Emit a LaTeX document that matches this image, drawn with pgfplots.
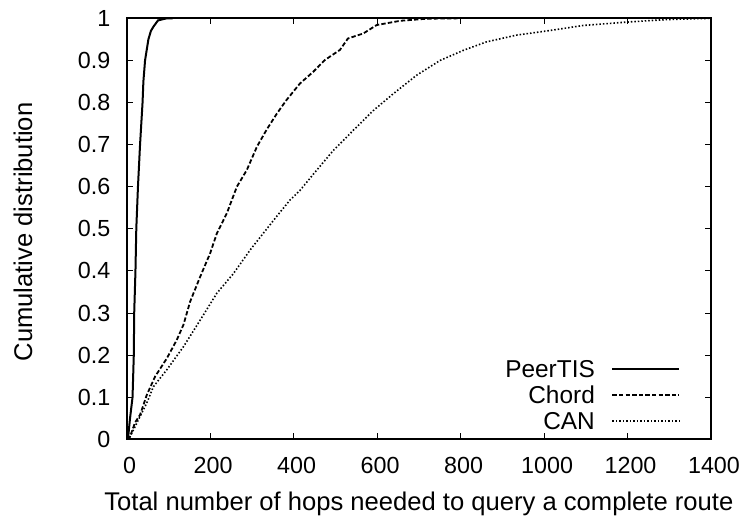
\documentclass[border=0pt]{standalone}
\usepackage{fontspec}
\setmainfont{Liberation Sans}
\usepackage{pgfplots}
\pgfplotsset{compat=1.18}
\begin{document}
\begin{tikzpicture}
\begin{axis}[
  scale only axis,
  width=292.15pt, height=210.5pt,
  xmin=0, xmax=1400, ymin=0, ymax=1,
  xtick={0,200,...,1400},
  ytick={0,0.1,...,1.0},
  yticklabels={0,0.1,0.2,0.3,0.4,0.5,0.6,0.7,0.8,0.9,1},
  /pgf/number format/assume math mode=true,
  /pgf/number format/1000 sep={},
  tick align=inside,
  major tick length=3pt,
  tick style={black, line width=0.5pt},
  axis line style={line width=1pt},
  every tick label/.append style={font=\fontsize{11.65}{14}\selectfont},
  xticklabel style={inner sep=0pt, anchor=north, yshift=-8.7pt, xshift=1.5pt},
  yticklabel style={inner sep=0pt, anchor=east, xshift=-8pt},
  every axis x label/.style={at={(axis description cs:0.5,-0.1703)}, anchor=base, font=\fontsize{12.8}{15}\selectfont},
  every axis y label/.style={at={(axis description cs:-0.162,0.4925)}, rotate=90, anchor=base, font=\fontsize{12.8}{15}\selectfont},
  xlabel={Total number of hops needed to query a complete route},
  ylabel={Cumulative distribution},
  legend cell align=right,
  legend plot pos=right,
  legend style={draw=none, fill=none, font=\fontsize{12.2}{14}\selectfont,
    at={(rel axis cs:0.947,0.0242)}, anchor=south east, inner sep=0pt, outer sep=0pt,
    row sep=4.45pt, column sep=8.3pt,
    nodes={inner sep=0pt, outer sep=0pt, text height=8.4pt, text depth=0pt}},
  legend image code/.code={\draw[#1] (0pt,0pt) -- (33.3pt,0pt);},
]
\coordinate (sw) at (rel axis cs:0,0);
\addplot[black, line width=1pt] coordinates {
(0,0) (3,0.0) (8,0.05) (14,0.1) (17,0.2) (18,0.3) (21,0.4) (23,0.5) (27,0.6) (32,0.7) (38,0.8) (40,0.85) (44,0.9) (52,0.95) (58,0.97) (64,0.98) (75,0.995) (96,1.0) (110,1)
};
\addlegendentry{PeerTIS}
\addplot[black, line width=0.9pt, dash pattern=on 2.2pt off 1.1pt] coordinates {
(0,0) (8,0.006) (20,0.04) (32,0.058) (48,0.105) (68,0.149) (96,0.192) (120,0.236) (136,0.272) (152,0.327) (176,0.386) (200,0.442) (216,0.489) (240,0.537) (264,0.6) (288,0.64) (312,0.695) (335,0.735) (360,0.774) (383,0.806) (415,0.845) (447,0.873) (475,0.901) (511,0.925) (530,0.952) (567,0.964) (599,0.984) (655,0.994) (719,0.999) (800,1)
};
\addlegendentry{Chord}
\addplot[black, line width=0.8pt, dash pattern=on 0.75pt off 1pt] coordinates {
(0,0) (8,0.006) (24,0.038) (48,0.086) (64,0.125) (96,0.165) (136,0.22) (176,0.283) (216,0.347) (256,0.394) (296,0.45) (327,0.489) (359,0.529) (391,0.568) (415,0.591) (455,0.639) (495,0.686) (543,0.734) (591,0.781) (639,0.821) (695,0.865) (751,0.900) (807,0.924) (862,0.944) (934,0.960) (1014,0.971) (1094,0.983) (1198,0.991) (1294,0.997) (1400,1.0)
};
\addlegendentry{CAN}
\end{axis}
\pgfresetboundingbox
\path (sw) ++(-63.35pt,-40.35pt) rectangle ++(372.5pt,260pt);
\end{tikzpicture}
\end{document}
